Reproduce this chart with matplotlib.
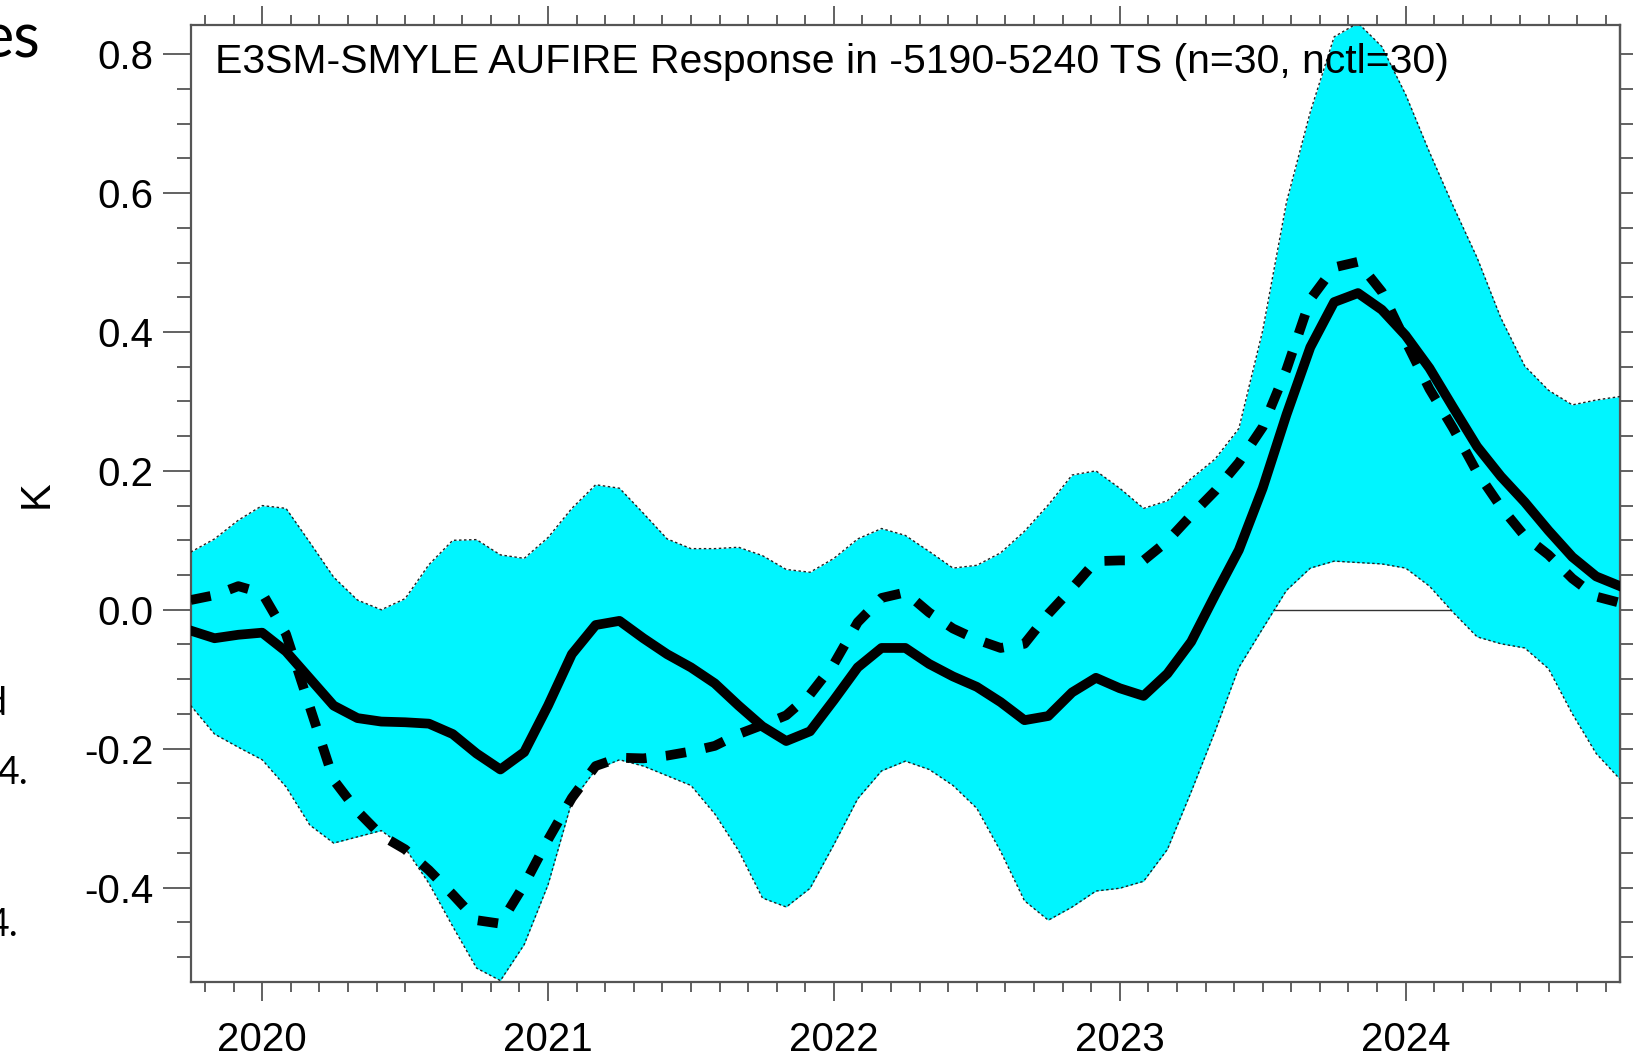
import numpy as np
import matplotlib
matplotlib.use("Agg")
import matplotlib.pyplot as plt
from matplotlib.ticker import MultipleLocator, FixedLocator, FormatStrFormatter

plt.rcParams["axes.unicode_minus"] = False
plt.rcParams["font.family"] = ["Liberation Sans", "DejaVu Sans"]

# ---------------- data (monthly, starting at 2019.75) ----------------
start_year = 2019.75
response_mean = [
    -0.030, -0.041, -0.036, -0.033, -0.060, -0.099, -0.138, -0.156, -0.161, -0.162,
    -0.164, -0.179, -0.207, -0.230, -0.205, -0.138, -0.064, -0.022, -0.016, -0.041,
    -0.064, -0.083, -0.106, -0.138, -0.168, -0.189, -0.175, -0.130, -0.083, -0.055,
    -0.055, -0.078, -0.096, -0.111, -0.133, -0.159, -0.153, -0.119, -0.098, -0.113,
    -0.124, -0.092, -0.046, 0.021, 0.086, 0.175, 0.281, 0.378, 0.443, 0.456,
    0.432, 0.395, 0.348, 0.291, 0.235, 0.192, 0.155, 0.114, 0.076, 0.048,
    0.034,
]
observed = [
    0.014, 0.021, 0.034, 0.024, -0.035, -0.140, -0.245, -0.290, -0.325, -0.345,
    -0.375, -0.410, -0.447, -0.452, -0.396, -0.331, -0.271, -0.225, -0.213, -0.214,
    -0.210, -0.204, -0.196, -0.179, -0.166, -0.152, -0.122, -0.078, -0.018, 0.017,
    0.025, -0.004, -0.027, -0.043, -0.055, -0.049, -0.006, 0.031, 0.070, 0.071,
    0.071, 0.099, 0.136, 0.171, 0.212, 0.263, 0.346, 0.447, 0.493, 0.501,
    0.458, 0.387, 0.318, 0.261, 0.198, 0.148, 0.106, 0.079, 0.045, 0.019,
    0.010,
]
band_upper = [
    0.083, 0.102, 0.129, 0.150, 0.146, 0.097, 0.047, 0.014, 0.000, 0.016,
    0.065, 0.100, 0.101, 0.079, 0.074, 0.104, 0.146, 0.180, 0.175, 0.139,
    0.102, 0.088, 0.088, 0.090, 0.078, 0.058, 0.054, 0.074, 0.102, 0.117,
    0.107, 0.084, 0.060, 0.064, 0.082, 0.113, 0.151, 0.194, 0.200, 0.175,
    0.146, 0.157, 0.189, 0.217, 0.261, 0.402, 0.587, 0.717, 0.825, 0.845,
    0.811, 0.742, 0.659, 0.581, 0.507, 0.420, 0.351, 0.316, 0.295, 0.302,
    0.307,
]
band_lower = [
    -0.138, -0.179, -0.198, -0.216, -0.255, -0.310, -0.336, -0.327, -0.318, -0.343,
    -0.394, -0.456, -0.516, -0.534, -0.482, -0.396, -0.276, -0.230, -0.216, -0.225,
    -0.239, -0.253, -0.294, -0.347, -0.415, -0.428, -0.401, -0.338, -0.272, -0.232,
    -0.218, -0.230, -0.253, -0.286, -0.348, -0.419, -0.447, -0.428, -0.405, -0.401,
    -0.391, -0.345, -0.262, -0.175, -0.083, -0.027, 0.028, 0.060, 0.070, 0.068,
    0.066, 0.060, 0.034, -0.004, -0.039, -0.049, -0.055, -0.085, -0.150, -0.207,
    -0.244,
]
year_ticks = [2020, 2021, 2022, 2023, 2024]
year_labels = ["2020", "2021", "2022", "2023", "2024"]
title_text = "E3SM-SMYLE AUFIRE Response in -5190-5240 TS (n=30, nctl=30)"
y_label = "K"

t = start_year + np.arange(len(response_mean)) / 12.0

W, H = 1648, 1057
fig = plt.figure(figsize=(W / 100, H / 100), dpi=100)
ax = fig.add_axes([190.7 / W, (H - 982) / H, 1429.3 / W, 957 / H])

ax.axhline(0.0, color="#333333", lw=1.0, zorder=1)
ax.fill_between(t, band_lower, band_upper, color="#00f5ff", lw=0, zorder=2)
ax.plot(t, band_upper, color="#222222", lw=1.0, ls=(0, (1.8, 1.8)), zorder=3)
ax.plot(t, band_lower, color="#222222", lw=1.0, ls=(0, (1.8, 1.8)), zorder=3)
ax.plot(t, observed, color="black", lw=7, ls=(0, (2.1, 2.0)),
        dash_capstyle="butt", zorder=4)
ax.plot(t, response_mean, color="black", lw=7, solid_joinstyle="round", zorder=5)

ax.set_xlim(2019.75, 2024.75)
ax.set_ylim(-0.536, 0.842)

spine_col = "#555555"
for s in ax.spines.values():
    s.set_color(spine_col)
    s.set_linewidth(1.6)

ax.xaxis.set_major_locator(FixedLocator(year_ticks))
ax.set_xticklabels(year_labels)
ax.xaxis.set_minor_locator(MultipleLocator(0.1))
ax.yaxis.set_major_locator(MultipleLocator(0.2))
ax.yaxis.set_minor_locator(MultipleLocator(0.05))
ax.yaxis.set_major_formatter(FormatStrFormatter("%.1f"))

ax.tick_params(axis="x", which="major", direction="out", length=14, width=1.3,
               top=True, bottom=True, color=spine_col, labelsize=29, pad=14)
ax.tick_params(axis="x", which="minor", direction="out", length=7, width=1.3,
               top=True, bottom=True, color=spine_col)
ax.tick_params(axis="y", which="major", direction="out", length=20, width=1.3,
               left=True, right=False, color=spine_col, labelsize=29, pad=7)
ax.tick_params(axis="y", which="minor", direction="out", length=10, width=1.3,
               left=True, right=False, color=spine_col)

sec = ax.secondary_yaxis("right")
sec.yaxis.set_major_locator(MultipleLocator(0.05))
sec.yaxis.set_minor_locator(plt.NullLocator())
sec.tick_params(axis="y", which="major", direction="out", length=9.5, width=1.3,
                color=spine_col, labelright=False)
sec.spines["right"].set_color(spine_col)
sec.spines["right"].set_linewidth(1.6)

ax.text(0.017, 0.9495, title_text, transform=ax.transAxes, fontsize=29.5,
        ha="left", va="baseline", color="black", zorder=6)

fig.text(37 / W, 1 - 494 / H, y_label, rotation=90, fontsize=30,
         ha="center", va="center")

# fragments of surrounding slide text, cut by the left edge
frag_font = ["Lato", "DejaVu Sans"]
fig.text(40 / W, 1 - 57 / H, "es", fontsize=44, ha="right", va="baseline",
         family=frag_font)
fig.text(6 / W, 1 - 715 / H, "d", fontsize=27, ha="right", va="baseline",
         family=frag_font)
fig.text(28 / W, 1 - 784 / H, "4.", fontsize=27, ha="right", va="baseline",
         family=frag_font)
fig.text(18 / W, 1 - 936 / H, "4.", fontsize=27, ha="right", va="baseline",
         family=frag_font)

fig.savefig("out.png", dpi=100)
